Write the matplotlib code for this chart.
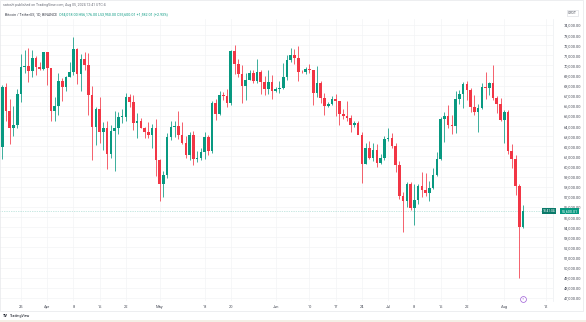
import matplotlib
matplotlib.use("Agg")
import matplotlib.pyplot as plt
import matplotlib.dates as mdates
import matplotlib.transforms as mtransforms
from matplotlib.patches import Rectangle
import numpy as np
import pandas as pd

plt.rcParams['font.family'] = ['Roboto', 'DejaVu Sans']

# Daily BTC/USDT candles, 2024-03-20 .. 2024-08-06
dates = pd.date_range("2024-03-20", "2024-08-06", freq="D")

opens = [61930, 67840, 65500, 63800, 64060, 67210, 69880, 69990, 69450, 70740,
         69890, 69650, 71330, 69700, 65460, 65960, 68500, 67840, 68900, 69360,
         71620, 69150, 70630, 70010, 67120, 63920, 65660, 63420, 63790, 61280,
         63470, 63820, 64940, 64940, 66840, 66410, 64280, 64500, 63770, 63460,
         63120, 63840, 60670, 58250, 59120, 62890, 63890, 64030, 63160, 62330,
         61190, 63070, 60790, 60830, 61480, 62940, 61580, 66270, 65230, 67050,
         66940, 66280, 71450, 70140, 69120, 67930, 68530, 69290, 68500, 69400,
         68370, 67640, 68350, 67490, 67710, 67770, 68810, 70570, 71080, 70760,
         69360, 69310, 69650, 69510, 67320, 68240, 66760, 66010, 66190, 66640,
         66490, 65160, 64960, 64830, 64100, 64260, 63160, 60280, 61800, 60860,
         61680, 60320, 60890, 62680, 62850, 62030, 60200, 57060, 56640, 58230,
         55850, 56710, 58050, 57720, 57340, 57890, 59200, 60790, 64720, 65040,
         64090, 63980, 66660, 67140, 68160, 67580, 65930, 65370, 65780, 67900,
         67810, 68250, 66780, 66190, 64620, 65350, 61500, 60700, 58120, 54018]
highs = [68100, 68240, 66650, 65980, 67620, 71150, 71560, 71770, 71550, 70900,
         70350, 71370, 71340, 69700, 66910, 69290, 68720, 69000, 70330, 72800,
         71760, 71170, 71280, 71230, 67930, 65840, 66870, 64360, 64490, 64130,
         65450, 65420, 65700, 67230, 67210, 67080, 65300, 64800, 63920, 64370,
         64230, 64730, 60780, 59600, 63320, 64490, 64530, 65500, 64420, 62990,
         63420, 63470, 61500, 61850, 63450, 63120, 66450, 66720, 67450, 67400,
         67700, 71520, 71980, 70630, 70040, 69250, 69560, 69510, 70610, 69560,
         68910, 69510, 69020, 67860, 68460, 70290, 71060, 71760, 71630, 71950,
         69560, 69850, 70150, 69560, 69990, 68450, 67300, 66400, 66930, 67190,
         66490, 65720, 66480, 65070, 64520, 64520, 63370, 62370, 62480, 62290,
         62180, 61200, 63060, 63860, 63290, 62290, 60500, 57500, 58470, 58460,
         58240, 58300, 59470, 59350, 58530, 59850, 61420, 64900, 65390, 66130,
         65120, 67440, 67600, 68370, 68500, 67810, 67100, 66170, 68220, 69400,
         68320, 70080, 66990, 66810, 65600, 65600, 62200, 61120, 58300, 56176]
lows = [60775, 64530, 62260, 63000, 63800, 66390, 69280, 68380, 68900, 69070,
        69560, 69560, 68060, 64500, 64490, 65060, 66500, 67440, 68850, 69040,
        68210, 67520, 69560, 65100, 60660, 62130, 62300, 61620, 59770, 60800,
        59600, 63170, 64280, 64500, 65870, 63600, 62790, 63780, 62790, 62810,
        61800, 59100, 56550, 56940, 58850, 62590, 62950, 62700, 62260, 60890,
        60630, 60190, 60490, 60630, 60750, 61150, 61330, 64600, 65120, 66600,
        65860, 66060, 69160, 68840, 66300, 66610, 68510, 68230, 68240, 67220,
        67080, 67130, 66670, 67390, 67260, 67620, 68560, 70380, 70120, 68500,
        69210, 69130, 69230, 66050, 66900, 66300, 65080, 65870, 66040, 65000,
        64060, 64690, 64540, 63380, 63930, 63180, 58400, 60240, 60770, 60560,
        60000, 60270, 60630, 62500, 61870, 59420, 56770, 53490, 56010, 55720,
        54260, 56290, 56950, 57050, 56590, 57760, 59090, 60630, 62400, 63840,
        63230, 63300, 66230, 65770, 66560, 65440, 65110, 63400, 65740, 66680,
        67060, 66540, 65300, 64530, 62300, 61200, 59850, 57200, 49000, 53950]
closes = [67840, 65500, 63800, 64060, 67210, 69880, 69990, 69450, 70740, 69890,
          69650, 71330, 69700, 65460, 65960, 68500, 67840, 68900, 69360, 71620,
          69150, 70630, 70010, 67120, 63920, 65660, 63420, 63790, 61280, 63470,
          63820, 64940, 64940, 66840, 66410, 64280, 64500, 63770, 63460, 63120,
          63840, 60670, 58250, 59120, 62890, 63890, 64030, 63160, 62330, 61190,
          63070, 60790, 60830, 61480, 62940, 61580, 66270, 65230, 67050, 66940,
          66280, 71450, 70140, 69120, 67930, 68530, 69290, 68500, 69400, 68370,
          67640, 68350, 67490, 67710, 67770, 68810, 70570, 71080, 70760, 69360,
          69310, 69650, 69510, 67320, 68240, 66760, 66010, 66190, 66640, 66490,
          65160, 64960, 64830, 64100, 64260, 63160, 60280, 61800, 60860, 61680,
          60320, 60890, 62680, 62850, 62030, 60200, 57060, 56640, 58230, 55850,
          56710, 58050, 57720, 57340, 57890, 59200, 60790, 64720, 65040, 64090,
          63980, 66660, 67140, 68160, 67580, 65930, 65370, 65780, 67900, 67810,
          68250, 66780, 66190, 64620, 65350, 61500, 60700, 58120, 54018, 55600.01]

price_ticks = list(range(47000, 74001, 1000))
date_ticks = ["2024-03-25", "2024-04-01", "2024-04-08", "2024-04-15", "2024-04-22",
              "2024-05-01", "2024-05-13", "2024-05-20", "2024-06-01", "2024-06-10",
              "2024-06-17", "2024-06-24", "2024-07-01", "2024-07-08", "2024-07-15",
              "2024-07-22", "2024-08-01", "2024-08-12"]
date_labels = ["25", "Apr", "8", "15", "22", "May", "13", "20", "Jun", "10",
               "17", "24", "Jul", "8", "15", "22", "Aug", "12"]
last_price = closes[-1]

UP = "#089981"
DOWN = "#F23645"
TXT = "#4a4e5a"

W, H = 586, 322
fig = plt.figure(figsize=(W / 100, H / 100), dpi=100)
fig.patch.set_facecolor("white")
ax = fig.add_axes([0, 1 - 301 / H, 553 / W, 282 / H])
ax.set_facecolor("white")

x = mdates.date2num(dates)
o = np.array(opens, float)
h = np.array(highs, float)
l = np.array(lows, float)
c = np.array(closes, float)
colors = np.where(c >= o, UP, DOWN)

ax.vlines(x, l, h, colors=colors, linewidth=0.55, zorder=3)
body_bottom = np.minimum(o, c)
body_height = np.maximum(np.abs(c - o), 70)
ax.bar(x, body_height, bottom=body_bottom, width=0.7, color=colors,
       linewidth=0, zorder=4)

# grid
for p in price_ticks:
    ax.axhline(p, color="#f3f4f6", linewidth=0.5, zorder=0)
tick_x = mdates.date2num(pd.to_datetime(date_ticks))
for t in tick_x:
    ax.axvline(t, color="#f3f4f6", linewidth=0.5, zorder=0)

# last price line
ax.axhline(last_price, color=UP, linewidth=0.45, linestyle=(0, (1, 1.8)),
           alpha=0.55, zorder=2)

x0 = mdates.date2num(pd.Timestamp("2024-03-20"))
ax.set_xlim(x0 - 0.6, x0 + 147.0)
ax.set_ylim(46700, 74593)

ax.set_xticks(tick_x)
ax.set_xticklabels(date_labels)
ax.yaxis.tick_right()
ax.set_yticks(price_ticks)
ax.set_yticklabels([f"{p:,.2f}" for p in price_ticks])
ax.tick_params(axis="x", length=0, pad=3.2, labelsize=2.9, labelcolor=TXT)
ax.tick_params(axis="y", length=0, pad=8, labelsize=2.9, labelcolor=TXT)
ax.spines[["top", "left", "bottom"]].set_visible(False)
ax.spines["right"].set_color("#eceef2")
ax.spines["right"].set_linewidth(0.5)

# price-scale header and last price tag
fig.text(572.5 / W, 1 - 13 / H, "USDT", fontsize=2.6, color=TXT,
         ha="center", va="center",
         bbox=dict(boxstyle="square,pad=0.35", fc="white", ec="#d6d8de", lw=0.4))
ty = ax.transData.transform((0, last_price))[1] / H
fig.text(555.5 / W, ty, "18:41:04", fontsize=2.3, color="white",
         ha="right", va="center",
         bbox=dict(boxstyle="square,pad=0.3", fc="#0b7a6a", ec="none"))
fig.text(561.5 / W, ty, f"{last_price:,.2f}", fontsize=2.6, color="white",
         ha="left", va="center",
         bbox=dict(boxstyle="square,pad=0.3", fc=UP, ec="none"))

# event marker under the last candle
trans = mtransforms.blended_transform_factory(ax.transData, ax.transAxes)
ax.plot([x[-1]], [0.0085], transform=trans, marker="o", markersize=4.2,
        markerfacecolor="white", markeredgecolor="#9c5bd6", markeredgewidth=0.5,
        clip_on=False, zorder=6)
ax.text(x[-1], 0.0085, "⚡", transform=trans, fontsize=2.4, color="#9c5bd6",
        ha="center", va="center", family=["DejaVu Sans"], clip_on=False, zorder=7)

# header lines
fig.text(3 / W, 1 - 5 / H,
         "satoshi published on TradingView.com, Aug 05, 2024 12:41 UTC-4",
         fontsize=2.5, color="#6a6d78", ha="left", va="center")
name = fig.text(5 / W, 1 - 14 / H, "Bitcoin / TetherUS, 1D, BINANCE  ",
                fontsize=2.6, color="#3a3e4a", ha="left", va="center")
fig.canvas.draw()
bb = name.get_window_extent()
fig.text(bb.x1 / W, 1 - 14 / H,
         "O54,018.00 H56,176.00 L53,950.00 C55,600.01 +1,582.01 (+2.93%)",
         fontsize=2.6, color=UP, ha="left", va="center")

# footer
fig.text(3 / W, 1 - 316 / H, "TV", fontsize=2.8, fontweight="bold",
         color="#131722", ha="left", va="center")
fig.text(10 / W, 1 - 316 / H, "TradingView", fontsize=2.6,
         color="#131722", ha="left", va="center")
fig.add_artist(Rectangle((0, 1 - 311 / H), 583 / W, 311 / H, transform=fig.transFigure,
                         fill=False, ec="#e6e7ea", lw=0.5))
fig.add_artist(Rectangle((0, 0), 1, 2.5 / H, transform=fig.transFigure,
                         fc="#f4efe6", ec="none"))

fig.savefig("out.png", dpi=100, facecolor="white")
